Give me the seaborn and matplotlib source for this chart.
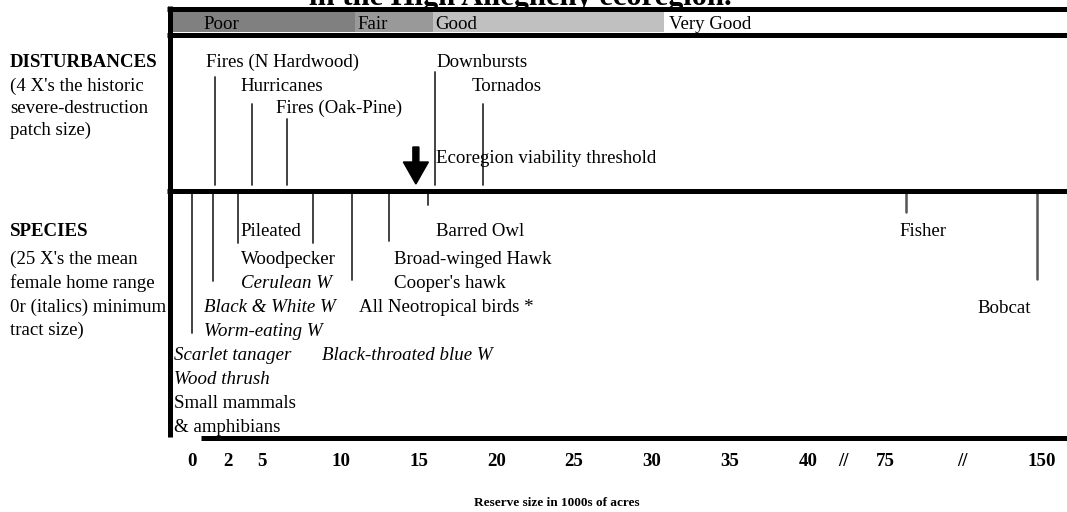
import numpy as np
import pandas as pd
import seaborn as sns
import matplotlib.pyplot as plt

sns.set_theme(style="white")
plt.rcParams["font.family"] = ["Liberation Serif", "DejaVu Serif"]
plt.rcParams["text.color"] = "black"

W, H = 1067, 512
FS = 13.6  # body text size (pt at 100 dpi)

# reserve size axis, in 1000s of acres (broken after 40 and after 75)
tick_values = [0, 2, 5, 10, 15, 20, 25, 30, 35, 40, 75, 150]
tick_labels = ["0", "2", "5", "10", "15", "20", "25", "30", "35", "40", "75", "150"]
break_values = [56, 112]

# condition band along the top
band_names = ["Poor", "Fair", "Good", "Very Good"]
band_edges = [10.9, 15.9, 30.8]
band_colors = ["#808080", "#999999", "#c0c0c0", "#ffffff"]

# disturbances (4 x historic severe-destruction patch size)
dist_names = ["Fires (N Hardwood)", "Hurricanes", "Fires (Oak-Pine)", "Downbursts", "Tornados"]
dist_sizes = [1.3, 4.1, 6.6, 16.0, 19.1]
threshold = 14.8

# species (25 x mean female home range or minimum tract size)
species_sizes = [0.0, 1.15, 2.9, 8.2, 10.7, 13.1, 15.6, 85.0, 147.5]
species_labels = ["Pileated", "Woodpecker", "Cerulean W", "Black & White W", "Worm-eating W",
                  "Scarlet tanager", "Wood thrush", "Small mammals", "& amphibians",
                  "Barred Owl", "Broad-winged Hawk", "Cooper's hawk", "All Neotropical birds *",
                  "Black-throated blue W", "Fisher", "Bobcat"]
species_italic = [False, False, True, True, True, True, True, False, False,
                  False, False, False, False, True, False, False]

# ---- layout (pixels) ----
tick_px = [192, 228, 262, 341, 419, 497, 574, 652, 730, 808, 885, 1042]
dist_top = [77, 104, 119, 72, 104]
dist_bottom = 185
species_top = 193
species_bottom = [333, 281, 243, 243, 280, 241, 205, 212, 279]
dist_label_xy = [(205.5, 67), (240, 91), (275.5, 113), (436.5, 67), (472, 91)]
species_label_xy = [(240, 236.5), (241, 264), (241, 288), (204.5, 312), (204.5, 336),
                    (174, 360), (174, 384), (174, 408), (174, 432),
                    (436, 236.5), (394.5, 264), (394.5, 288), (359, 312),
                    (322.5, 360), (899, 236.5), (977, 313)]
band_label_x = [203, 357, 435.5, 669]

s_lo = (tick_px[1] - tick_px[0]) / (tick_values[1] - tick_values[0])
s_hi = (tick_px[-1] - tick_px[-2]) / (tick_values[-1] - tick_values[-2])


def forward(v):
    v = np.asarray(v, dtype=float)
    out = np.interp(v, tick_values, tick_px)
    out = np.where(v < tick_values[0], tick_px[0] + (v - tick_values[0]) * s_lo, out)
    out = np.where(v > tick_values[-1], tick_px[-1] + (v - tick_values[-1]) * s_hi, out)
    return out


def inverse(p):
    p = np.asarray(p, dtype=float)
    out = np.interp(p, tick_px, tick_values)
    out = np.where(p < tick_px[0], tick_values[0] + (p - tick_px[0]) / s_lo, out)
    out = np.where(p > tick_px[-1], tick_values[-1] + (p - tick_px[-1]) / s_hi, out)
    return out


fig = plt.figure(figsize=(W / 100, H / 100), dpi=100)
ax = fig.add_axes([0, 0, 1, 1])

# marker lines, long form for seaborn
rows = []
for name, x, top in zip(dist_names, dist_sizes, dist_top):
    rows += [dict(line=name, x=x, y=top), dict(line=name, x=x, y=dist_bottom)]
for i, (x, bot) in enumerate(zip(species_sizes[:7], species_bottom[:7])):
    rows += [dict(line=f"sp{i}", x=x, y=species_top), dict(line=f"sp{i}", x=x, y=bot)]
lines = pd.DataFrame(rows)
sns.lineplot(data=lines, x="x", y="y", units="line", estimator=None, sort=False,
             color="#333333", lw=1.3, legend=False, ax=ax)

rows = []
for i, (x, bot) in enumerate(zip(species_sizes[7:], species_bottom[7:])):
    rows += [dict(line=f"big{i}", x=x, y=species_top), dict(line=f"big{i}", x=x, y=bot)]
sns.lineplot(data=pd.DataFrame(rows), x="x", y="y", units="line", estimator=None,
             sort=False, color="#555555", lw=1.8, legend=False, ax=ax)

ax.set_xscale("function", functions=(forward, inverse))
ax.set_xlim(inverse(0), inverse(W))
ax.set_ylim(H, 0)

# condition band
starts = [float(inverse(172))] + band_edges
ends = band_edges + [float(inverse(W))]
for s, e, c in zip(starts, ends, band_colors):
    ax.broken_barh([(s, e - s)], (11, 21), facecolors=c, edgecolor="none", zorder=1)

# viability threshold arrow
ax.arrow(threshold, 147, 0, 37, width=6 / 15.57, head_width=25 / 15.57, head_length=22,
         length_includes_head=True, color="black", zorder=3)

# tick labels under the bottom line
for v, lab in zip(tick_values, tick_labels):
    ax.text(v, 466, lab, ha="center", va="baseline", fontsize=FS, fontweight="bold")
for v in break_values:
    ax.text(v, 466, "//", ha="center", va="baseline", fontsize=FS, fontweight="bold")
ax.axis("off")

# layout overlay in pixel coordinates
lay = fig.add_axes([0, 0, 1, 1], facecolor="none")
lay.set_xlim(0, W)
lay.set_ylim(H, 0)
lay.axis("off")

lw_frame = 3.6
lay.plot([167, W], [8.5, 8.5], color="black", lw=lw_frame, solid_capstyle="butt")
lay.plot([167, W], [34.5, 34.5], color="black", lw=lw_frame, solid_capstyle="butt")
lay.plot([167, W], [190.5, 190.5], color="black", lw=lw_frame, solid_capstyle="butt")
lay.plot([201, W], [437.5, 437.5], color="black", lw=lw_frame, solid_capstyle="butt")
lay.plot([169.5, 169.5], [6, 437], color="black", lw=lw_frame, solid_capstyle="butt")

lay.text(520, 5, "in the High Allegheny ecoregion.", ha="center", va="baseline",
         fontsize=22, fontweight="bold")

for name, x in zip(band_names, band_label_x):
    lay.text(x, 29, name, ha="left", va="baseline", fontsize=FS)

for name, (x, y) in zip(dist_names, dist_label_xy):
    lay.text(x, y, name, ha="left", va="baseline", fontsize=FS)
lay.text(436, 163, "Ecoregion viability threshold", ha="left", va="baseline", fontsize=FS)

for name, it, (x, y) in zip(species_labels, species_italic, species_label_xy):
    lay.text(x, y, name, ha="left", va="baseline", fontsize=FS,
             style="italic" if it else "normal")

left_dist = ["(4 X's the historic", "severe-destruction", "patch size)"]
left_spec = ["(25 X's the mean", "female home range", "0r (italics) minimum", "tract size)"]
lay.text(10, 67, "DISTURBANCES", ha="left", va="baseline", fontsize=FS, fontweight="bold")
for t, y in zip(left_dist, [91, 113, 135]):
    lay.text(10, y, t, ha="left", va="baseline", fontsize=FS)
lay.text(10, 236.5, "SPECIES", ha="left", va="baseline", fontsize=FS, fontweight="bold")
for t, y in zip(left_spec, [264, 288.5, 312, 335]):
    lay.text(10, y, t, ha="left", va="baseline", fontsize=FS)

lay.text(557, 506, "Reserve size in 1000s of acres", ha="center", va="baseline",
         fontsize=9.5, fontweight="bold")

fig.savefig("out.png", dpi=100)
